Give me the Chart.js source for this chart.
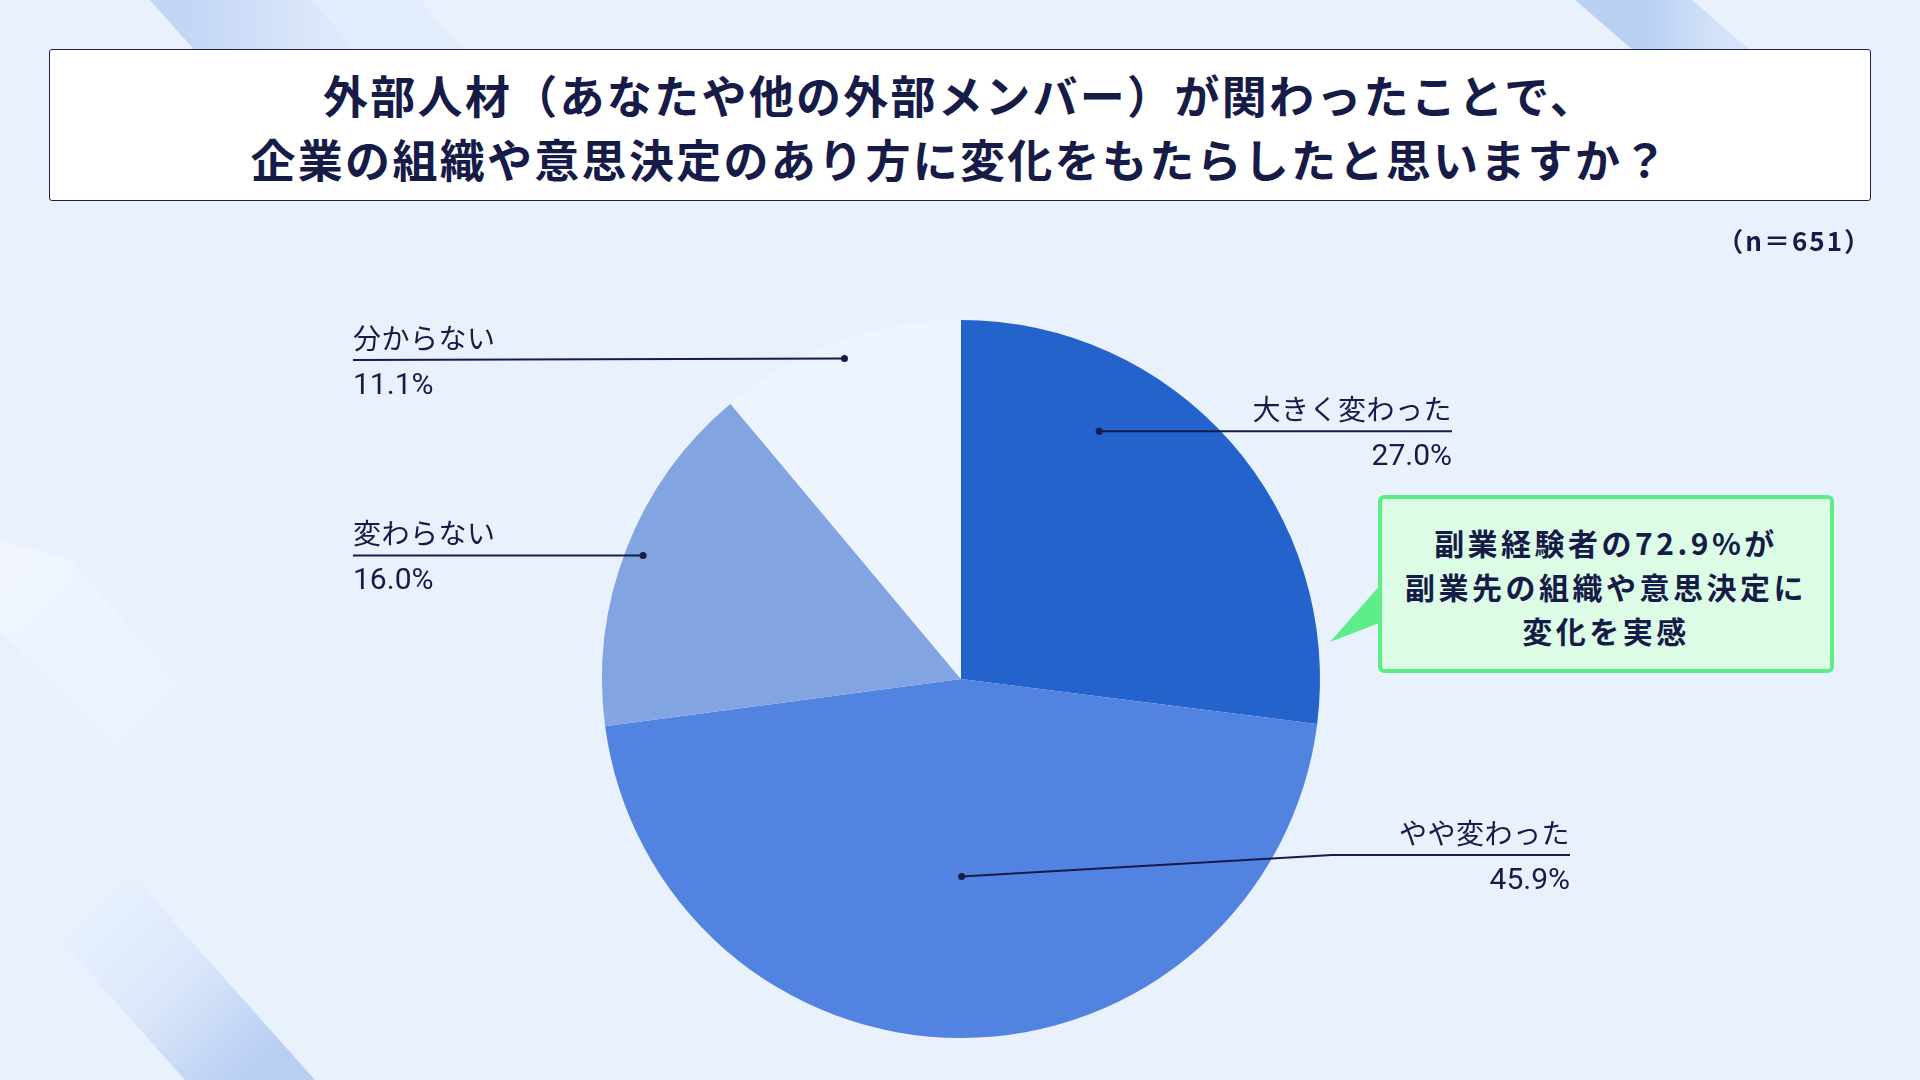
<!DOCTYPE html>
<html lang="ja">
<head>
<meta charset="utf-8">
<title>外部人材が関わったことによる変化</title>
<script src="https://cdn.jsdelivr.net/npm/chart.js@4.4.0/dist/chart.umd.min.js"></script>
<style>
  html, body {
    margin: 0;
    padding: 0;
    width: 1920px;
    height: 1080px;
    overflow: hidden;
    background: #e9f1fd;
    font-family: "Noto Sans CJK JP", "Noto Sans", sans-serif;
    color: #161b48;
  }
  .stripe {
    position: absolute;
  }
  .s1 {
    left: 0; top: 0; width: 600px; height: 100px;
    clip-path: polygon(150px 0, 312px 0, 392px 90px, 230px 90px);
    background: linear-gradient(90deg, #c2d5f4 30%, #dde8fb 55%, #e6eefc 70%);
  }
  .s1b {
    left: 0; top: 0; width: 600px; height: 100px;
    clip-path: polygon(312px 0, 420px 0, 500px 90px, 392px 90px);
    background: #e4edfc;
  }
  .s2 {
    left: 1500px; top: 0; width: 300px; height: 60px;
    clip-path: polygon(75px 0, 192px 0, 250px 50px, 133px 50px);
    background: linear-gradient(90deg, #bad0f3 50%, #d6e4f9 75%);
  }
  .s3 {
    left: 0; top: 850px; width: 330px; height: 230px;
    clip-path: polygon(185px 230px, 315px 230px, 110px 0, -20px 0);
    background: linear-gradient(135deg, rgba(233,241,253,0) 25%, #dbe7fa 55%, #b8cef3 85%);
  }
  .s4 {
    left: 0; top: 520px; width: 320px; height: 300px;
    clip-path: polygon(0 20px, 70px 40px, 300px 300px, 190px 300px, 0 110px);
    background: linear-gradient(135deg, rgba(255,255,255,0.35), rgba(255,255,255,0) 80%);
  }
  #pieChart {
    position: absolute;
    left: 0;
    top: 0;
  }
  .titleBox {
    position: absolute;
    left: 49px;
    top: 49px;
    width: 1822px;
    height: 152px;
    box-sizing: border-box;
    background: #ffffff;
    border: 1.5px solid #1c2050;
    border-radius: 3px;
    text-align: center;
    font-size: 45px;
    font-weight: 700;
    letter-spacing: 2.3px;
    line-height: 64px;
    padding-top: 13px;
  }
  .sampleSize {
    position: absolute;
    right: 48px;
    top: 223px;
    font-size: 26px;
    font-weight: 700;
    letter-spacing: 2px;
    line-height: 34px;
  }
  .callout {
    position: absolute;
    left: 1378px;
    top: 495px;
    width: 456px;
    height: 178px;
    box-sizing: border-box;
    background: #dcfce5;
    border: 4px solid #5eee88;
    border-radius: 6px;
    text-align: center;
    font-size: 30px;
    font-weight: 700;
    letter-spacing: 3.5px;
    line-height: 44px;
    padding-top: 21px;
  }
  .pointer {
    position: absolute;
    left: 0;
    top: 0;
  }
</style>
</head>
<body>
<div class="stripe s1"></div>
<div class="stripe s1b"></div>
<div class="stripe s2"></div>
<div class="stripe s3"></div>
<div class="stripe s4"></div>

<canvas id="pieChart" width="1920" height="1080"></canvas>

<div class="titleBox">
  外部人材（あなたや他の外部メンバー）が関わったことで、<br>
  企業の組織や意思決定のあり方に変化をもたらしたと思いますか？
</div>
<div class="sampleSize">（n＝651）</div>

<svg class="pointer" width="1920" height="1080">
  <polygon points="1330,642 1382,583 1382,622" fill="#5eee88"/>
</svg>
<div class="callout">
  副業経験者の72.9%が<br>
  副業先の組織や意思決定に<br>
  変化を実感
</div>

<script>
// data
const categories = ['大きく変わった', 'やや変わった', '変わらない', '分からない'];
const percentages = [27.0, 45.9, 16.0, 11.1];
const sliceColors = ['#2462cc', '#5283e0', '#82a5e2', '#eef4fe'];

// where each leader line starts inside its slice and where its label sits
// t = fraction along the slice angle, rf = fraction of the radius
const leaderLayout = [
    { t: 0.30, rf: 0.79, endX: 1452, align: 'right' },
    { t: 0.50, rf: 0.55, elbowX: 1332, elbowY: 855, endX: 1570, align: 'right' },
    { t: 0.50, rf: 0.95, endX: 353, align: 'left' },
    { t: 0.50, rf: 0.95, endX: 353, endY: 360, align: 'left' },
];

const textColor = '#161b48';

const leaderLabels = {
    id: 'leaderLabels',
    afterDatasetsDraw(chart) {
        const ctx = chart.ctx;
        const arcs = chart.getDatasetMeta(0).data;
        ctx.save();
        arcs.forEach((arc, i) => {
            const layout = leaderLayout[i];
            const { x, y, startAngle, endAngle, outerRadius } =
                arc.getProps(['x', 'y', 'startAngle', 'endAngle', 'outerRadius'], true);
            const angle = startAngle + layout.t * (endAngle - startAngle);
            const px = x + Math.cos(angle) * outerRadius * layout.rf;
            const py = y + Math.sin(angle) * outerRadius * layout.rf;
            const lineY = layout.endY ?? (layout.elbowY ?? py);

            ctx.strokeStyle = textColor;
            ctx.lineWidth = 2;
            ctx.beginPath();
            ctx.moveTo(px, py);
            if (layout.elbowX !== undefined) {
                ctx.lineTo(layout.elbowX, layout.elbowY);
            }
            ctx.lineTo(layout.endX, lineY);
            ctx.stroke();

            ctx.fillStyle = textColor;
            ctx.beginPath();
            ctx.arc(px, py, 3.5, 0, Math.PI * 2);
            ctx.fill();

            ctx.textAlign = layout.align;
            ctx.textBaseline = 'alphabetic';
            ctx.letterSpacing = '0.5px';
            ctx.font = '400 28px "Noto Sans CJK JP", sans-serif';
            ctx.fillText(categories[i], layout.endX, lineY - 11);
            ctx.letterSpacing = '0px';
            ctx.font = '400 30px Roboto, "Noto Sans", sans-serif';
            ctx.fillText(percentages[i].toFixed(1) + '%', layout.endX, lineY + 34);
        });
        ctx.restore();
    }
};

const ctx = document.getElementById('pieChart').getContext('2d');
window.myChart = new Chart(ctx, {
    type: 'pie',
    data: {
        labels: categories,
        datasets: [{
            data: percentages,
            backgroundColor: sliceColors,
            borderWidth: 0,
            offset: 0,
            hoverOffset: 0,
        }],
    },
    options: {
        responsive: false,
        animation: false,
        layout: {
            padding: { left: 602, right: 600, top: 320, bottom: 42 },
        },
        plugins: {
            legend: { display: false },
            tooltip: { enabled: false },
        },
    },
    plugins: [leaderLabels],
});
</script>
</body>
</html>
